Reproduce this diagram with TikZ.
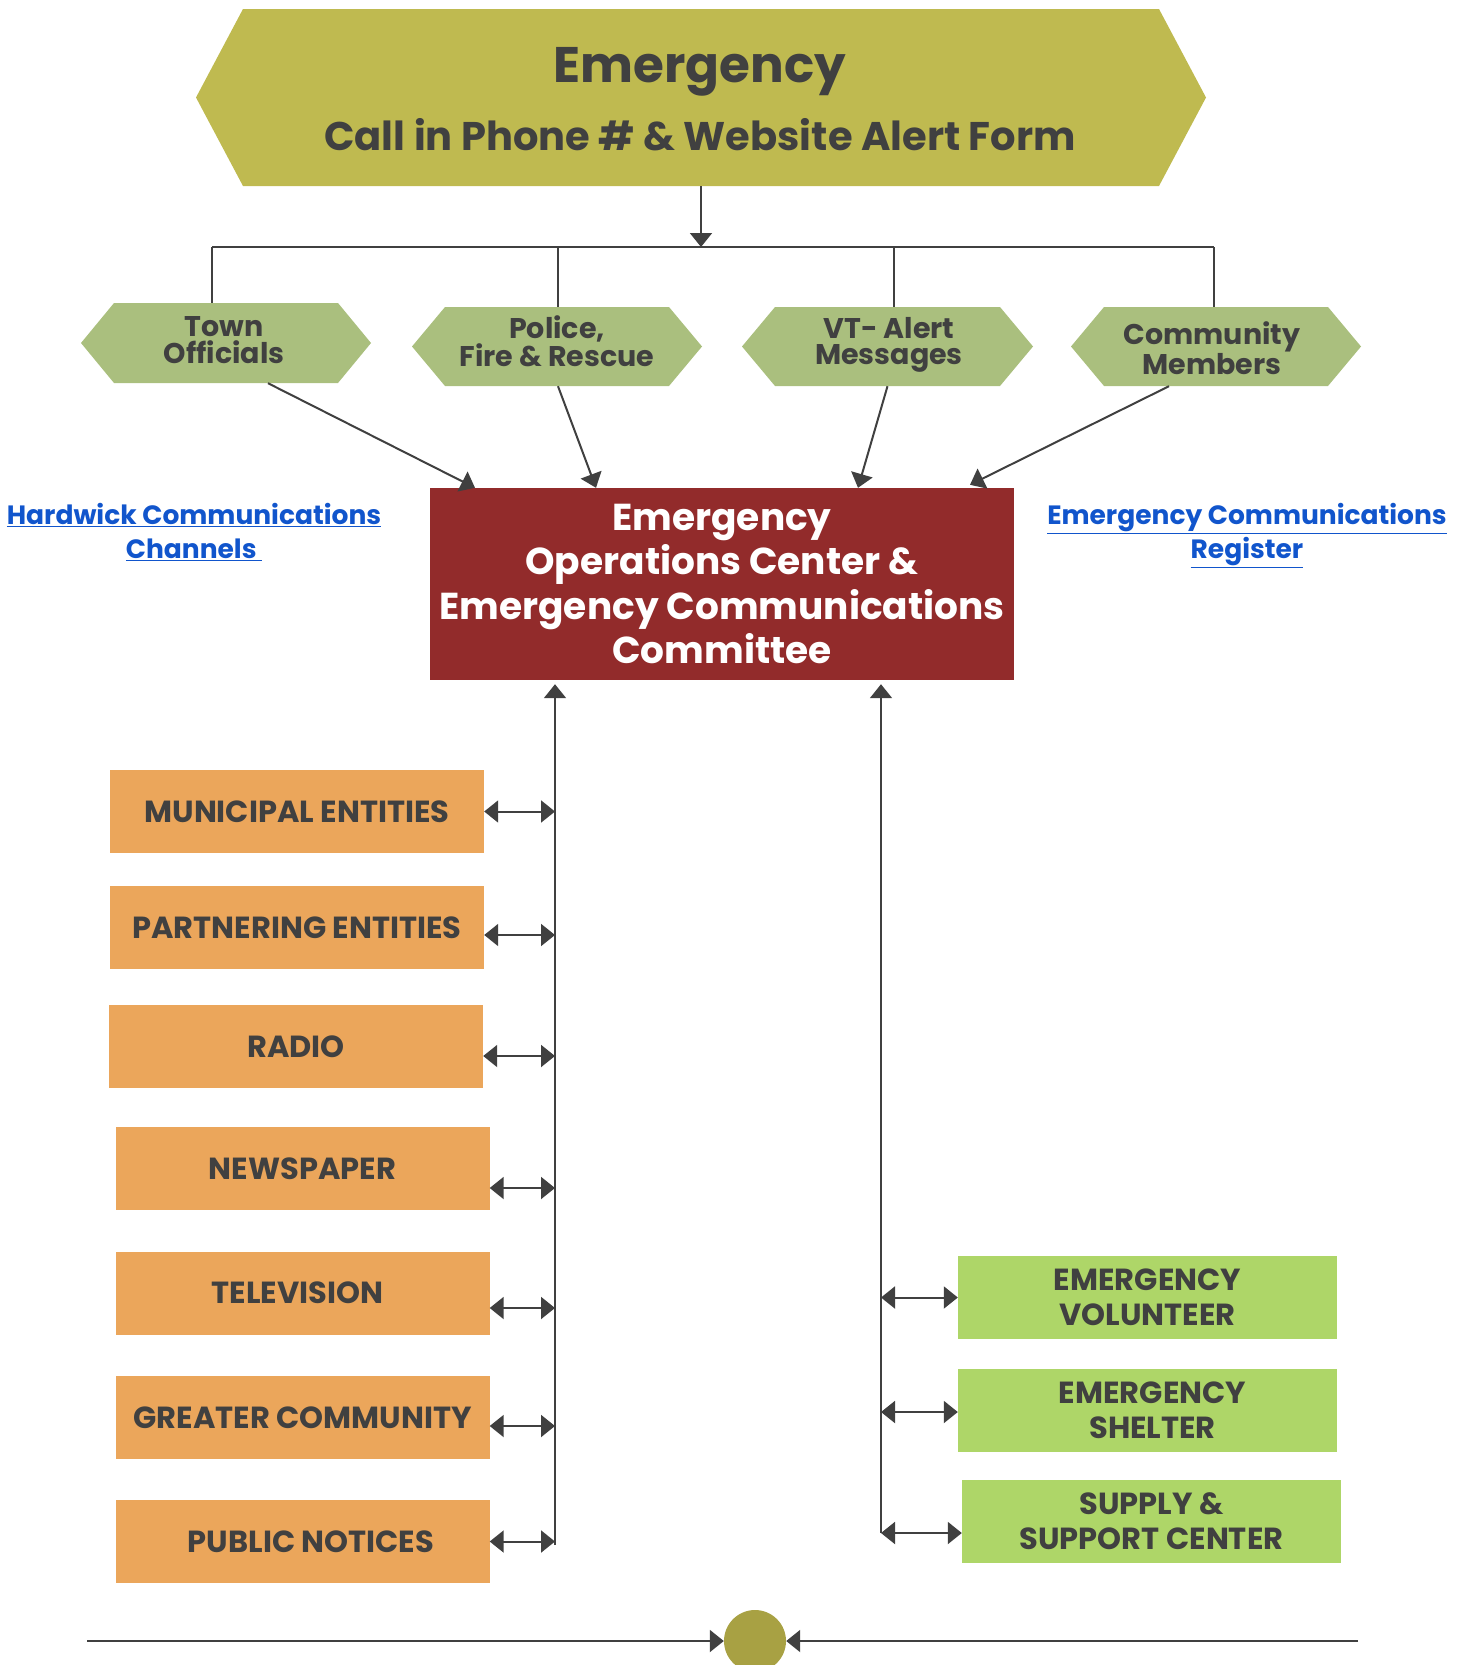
\documentclass[tikz,border=0pt]{standalone}
\usepackage{fontspec}
\setmainfont{Poppins}
\usetikzlibrary{arrows.meta,calc}
\definecolor{txt}{HTML}{404040}
\definecolor{olivetop}{HTML}{BFBA50}
\definecolor{hexgreen}{HTML}{AABF7E}
\definecolor{eocred}{HTML}{922B2B}
\definecolor{orangebox}{HTML}{EBA65B}
\definecolor{greenbox}{HTML}{AED668}
\definecolor{dotc}{HTML}{A8A143}
\definecolor{linkblue}{HTML}{1155CC}
\newcommand\fTitle{\fontsize{50}{58}\selectfont\bfseries}
\newcommand\fSub{\fontsize{40}{48}\selectfont\bfseries}
\newcommand\fHex{\fontsize{28.5}{26.5}\selectfont\bfseries}
\newcommand\fEoc{\fontsize{37.5}{44.5}\selectfont\bfseries}
\newcommand\fLink{\fontsize{26.5}{34}\selectfont\bfseries}
\newcommand\fBoxes{\fontsize{30.5}{35}\selectfont\bfseries}
\begin{document}
\begin{tikzpicture}[x=1pt,y=-1pt,
  hexa/.style n args={4}{minimum width=#1, minimum height=#2, inner sep=0pt,
    align=center, text=txt, font=\fHex,
    path picture={\fill[#3] (path picture bounding box.west)
      -- ([xshift=#4]path picture bounding box.north west)
      -- ([xshift=-#4]path picture bounding box.north east)
      -- (path picture bounding box.east)
      -- ([xshift=-#4]path picture bounding box.south east)
      -- ([xshift=#4]path picture bounding box.south west) -- cycle;}},
  obox/.style={fill=orangebox, minimum width=374pt, minimum height=83pt,
    inner sep=0pt, align=center, text=txt, font=\fBoxes},
  gbox/.style={fill=greenbox, minimum width=379pt, minimum height=83pt,
    inner sep=0pt, align=center, text=txt, font=\fBoxes},
  lnk/.style={text=linkblue, font=\fLink, align=center},
  ln/.style={draw=txt, line width=2pt},
  arr/.style={ln, -{Triangle[length=14pt,width=22pt]}},
  dbl/.style={ln, {Triangle[length=14pt,width=22pt]}-{Triangle[length=14pt,width=22pt]}}
]
\useasboundingbox (0,0) rectangle (1465,1665);

% top hexagon
\node[hexa={1010pt}{177pt}{olivetop}{47pt}] (top) at (701,97.5) {};
\node[anchor=base, text=txt, font=\fTitle] (title) at (700,82) {Emergency};
\node[anchor=base, text=txt, font=\fSub] (sub) at (700,150) {Call in Phone \# \& Website Alert Form};

% second row hexagons
\node[hexa={290pt}{80pt}{hexgreen}{33pt}] (town) at (226,343) {};
\node[text=txt, font=\fHex, align=center] (townt) at (224,340) {Town\\Officials};
\node[hexa={290pt}{79pt}{hexgreen}{33pt}] (police) at (557,346.5) {};
\node[text=txt, font=\fHex, align=center] (policet) at (557,341) {Police,\\Fire \& Rescue};
\node[hexa={291pt}{79pt}{hexgreen}{33pt}] (vt) at (887.5,346.5) {};
\node[text=txt, font=\fHex, align=center] (vtt) at (889,345) {VT- Alert\\Messages};
\node[hexa={290pt}{79pt}{hexgreen}{33pt}] (comm) at (1216,346.5) {};
\node[text=txt, font=\fHex, align=center] (commt) at (1212,348) {Community\\Members};

% EOC
\node[fill=eocred, minimum width=584pt, minimum height=192pt, inner sep=0pt,
  text=white, font=\fEoc, align=center] (eoc) at (722,584)
  {Emergency\\Operations Center \&\\Emergency Communications\\Committee};

% links
\node[lnk] (link1) at (194,532) {\underline{Hardwick Communications}\\\underline{Channels\ }};
\node[lnk] (link2) at (1247,536) {\underline{Emergency Communications}\\\underline{Register}};

% orange boxes
\node[obox] (muni) at (297,811.5) {MUNICIPAL ENTITIES};
\node[obox] (partner) at (297,927.5) {PARTNERING ENTITIES};
\node[obox] (radio) at (296,1046.5) {RADIO};
\node[obox] (news) at (302.5,1168.5) {NEWSPAPER};
\node[obox] (tv) at (302.5,1293) {TELEVISION\hspace*{10pt}};
\node[obox] (greater) at (302.5,1417.5) {GREATER COMMUNITY};
\node[obox] (public) at (302.5,1541.5) {\hspace*{17pt}PUBLIC NOTICES};

% green boxes
\node[gbox] (vol) at (1147.5,1297.5) {EMERGENCY\\VOLUNTEER};
\node[gbox] (shelter) at (1147.5,1410) {\hspace*{10pt}EMERGENCY\\\hspace*{10pt}SHELTER};
\node[gbox] (supply) at (1151.5,1521.5) {SUPPLY \&\\SUPPORT CENTER};

% bottom dot
\node[circle, fill=dotc, minimum size=62pt, inner sep=0pt] (dot) at (755,1641) {};

% coordinates
\coordinate (busL) at (212,247);
\coordinate (busR) at (1214,247);
\coordinate (dPol) at (558,247);
\coordinate (dVt) at (894,247);
\coordinate (lbot) at (555,1545);
\coordinate (rbot) at (881,1533);
\coordinate (bl) at (87,1641);
\coordinate (br) at (1358,1641);

% top connectors
\draw[arr] (top.south) -- (top.south |- busL);
\draw[ln] (busL) -- (busR);
\draw[ln] (busL) -- (busL |- town.north);
\draw[ln] (dPol) -- (dPol |- police.north);
\draw[ln] (dVt) -- (dVt |- vt.north);
\draw[ln] (busR) -- (busR |- comm.north);

% into EOC
\draw[arr] ([xshift=42pt]town.south) -- ([xshift=-247pt]eoc.north);
\draw[arr] ([xshift=1pt]police.south) -- ([xshift=-126pt]eoc.north);
\draw[arr] (vt.south) -- ([xshift=136pt]eoc.north);
\draw[arr] ([xshift=-47pt]comm.south) -- ([xshift=248pt,yshift=3pt]eoc.north);

% verticals
\draw[arr] (lbot) -- ([yshift=-4pt]eoc.south -| lbot);
\draw[arr] (rbot) -- ([yshift=-4pt]eoc.south -| rbot);

% left double arrows
\draw[dbl] (muni.east) -- (muni.east -| lbot);
\draw[dbl] ([yshift=-7.5pt]partner.east) -- ([yshift=-7.5pt]partner.east -| lbot);
\draw[dbl] ([yshift=-9.5pt]radio.east) -- ([yshift=-9.5pt]radio.east -| lbot);
\draw[dbl] ([yshift=-19.5pt]news.east) -- ([yshift=-19.5pt]news.east -| lbot);
\draw[dbl] ([yshift=-15pt]tv.east) -- ([yshift=-15pt]tv.east -| lbot);
\draw[dbl] ([yshift=-8.5pt]greater.east) -- ([yshift=-8.5pt]greater.east -| lbot);
\draw[dbl] (public.east) -- (public.east -| lbot);

% right double arrows
\draw[dbl] (vol.west -| rbot) -- (vol.west);
\draw[dbl] ([yshift=-2pt]shelter.west -| rbot) -- ([yshift=-2pt]shelter.west);
\draw[dbl] ([yshift=-11.5pt]supply.west -| rbot) -- ([yshift=-11.5pt]supply.west);

% bottom line
\draw[arr] (bl) -- (dot.west);
\draw[arr] (br) -- (dot.east);
\end{tikzpicture}
\end{document}
